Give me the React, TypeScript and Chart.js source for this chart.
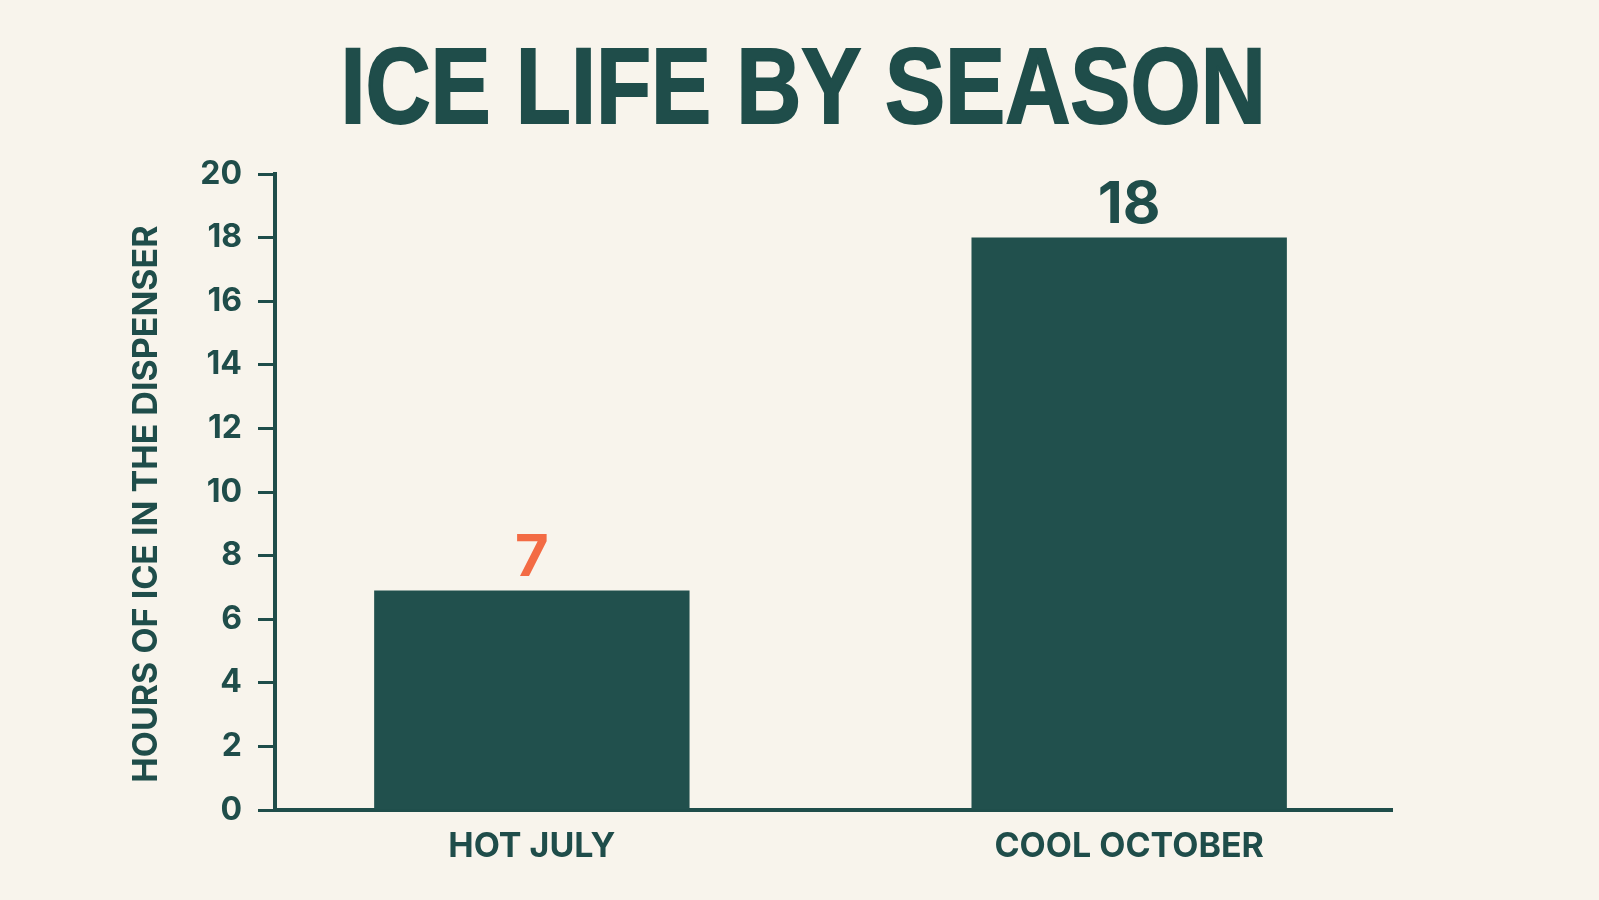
import React, { useEffect, useRef } from 'react';
import { Chart, ChartConfiguration, Plugin, registerables } from 'chart.js';

Chart.register(...registerables);

const categories = ['HOT JULY', 'COOL OCTOBER'];
const hours = [6.9, 18];
const valueColors = ['#F36B44', '#1F4D4A'];
const yTickValues = [0, 2, 4, 6, 8, 10, 12, 14, 16, 18, 20];

const BG = '#F8F4EC';
const TEAL = '#21504D';
const INK = '#1F4D4A';

// draws the number above each bar
const valueLabels: Plugin<'bar'> = {
    id: 'valueLabels',
    afterDatasetsDraw(chart) {
        const { ctx } = chart;
        const meta = chart.getDatasetMeta(0);
        ctx.save();
        ctx.font = 'bold 58px Inter, "Liberation Sans", sans-serif';
        ctx.textAlign = 'center';
        ctx.textBaseline = 'alphabetic';
        meta.data.forEach((bar, i) => {
            ctx.fillStyle = valueColors[i];
            ctx.fillText(String(Math.round(hours[i])), bar.x, bar.y - 15);
        });
        ctx.restore();
    }
};

const IceLifeChart: React.FC = () => {
    const chartRef = useRef<HTMLCanvasElement>(null);
    const chartInstanceRef = useRef<Chart | null>(null);

    useEffect(() => {
        if (!chartRef.current) return;
        const ctx = chartRef.current.getContext('2d');
        if (!ctx) return;

        Chart.defaults.font.family = 'Inter, "Liberation Sans", sans-serif';

        const config: ChartConfiguration<'bar'> = {
            type: 'bar',
            data: {
                datasets: [{
                    label: 'Hours of ice',
                    data: hours.map((v, i) => ({ x: i, y: v })),
                    backgroundColor: TEAL,
                    borderWidth: 0,
                    categoryPercentage: 1,
                    barPercentage: 0.528
                }]
            },
            options: {
                animation: false,
                responsive: true,
                maintainAspectRatio: false,
                layout: { padding: { top: 174, right: 207, bottom: 0, left: 0 } },
                scales: {
                    x: {
                        type: 'linear',
                        offset: false,
                        min: -0.43,
                        max: 1.44,
                        afterBuildTicks: (scale) => {
                            scale.ticks = categories.map((_, i) => ({ value: i }));
                        },
                        afterFit: (scale) => { scale.height = 90; },
                        ticks: {
                            callback: (value) => categories[Number(value)] ?? '',
                            color: INK,
                            font: { size: 34, weight: 'bold' },
                            padding: 8,
                            maxRotation: 0,
                            autoSkip: false
                        },
                        grid: { display: false, offset: false },
                        border: { display: true, color: INK, width: 4 }
                    },
                    y: {
                        min: 0,
                        max: 20,
                        afterBuildTicks: (scale) => {
                            scale.ticks = yTickValues.map(v => ({ value: v }));
                        },
                        afterFit: (scale) => { scale.width = 275; },
                        ticks: {
                            color: INK,
                            font: { size: 32, weight: 'bold' },
                            padding: 16
                        },
                        grid: {
                            drawOnChartArea: false,
                            drawTicks: true,
                            tickLength: 17,
                            tickWidth: 3,
                            tickColor: INK,
                            color: INK
                        },
                        border: { color: INK, width: 4 },
                        title: {
                            display: true,
                            // trailing spaces nudge the rotated label down a little
                            text: 'HOURS OF ICE IN THE DISPENSER   ',
                            color: INK,
                            font: { size: 34, weight: 'bold' },
                            padding: { top: 126, bottom: 0 }
                        }
                    }
                },
                plugins: {
                    legend: { display: false },
                    tooltip: { enabled: false }
                }
            },
            plugins: [valueLabels]
        };

        chartInstanceRef.current = new Chart(ctx, config);

        return () => {
            if (chartInstanceRef.current) {
                chartInstanceRef.current.destroy();
                chartInstanceRef.current = null;
            }
        };
    }, []);

    return (
        <div style={{ position: 'fixed', inset: 0, background: BG }}>
            <h1 style={{
                position: 'absolute', top: 32, left: 0, width: '100%', margin: 0,
                paddingLeft: 7, boxSizing: 'border-box', textAlign: 'center',
                font: 'bold 108px "Liberation Sans", Arial, sans-serif',
                lineHeight: 1, color: INK, zIndex: 1
            }}>
                <span style={{
                    display: 'inline-block', transform: 'scaleX(0.835)',
                    WebkitTextStroke: `2px ${INK}`
                }}>ICE LIFE BY SEASON</span>
            </h1>
            <div style={{ position: 'absolute', inset: 0 }}>
                <canvas ref={chartRef} />
            </div>
        </div>
    );
};

export default function App() {
    return <IceLifeChart />;
}
